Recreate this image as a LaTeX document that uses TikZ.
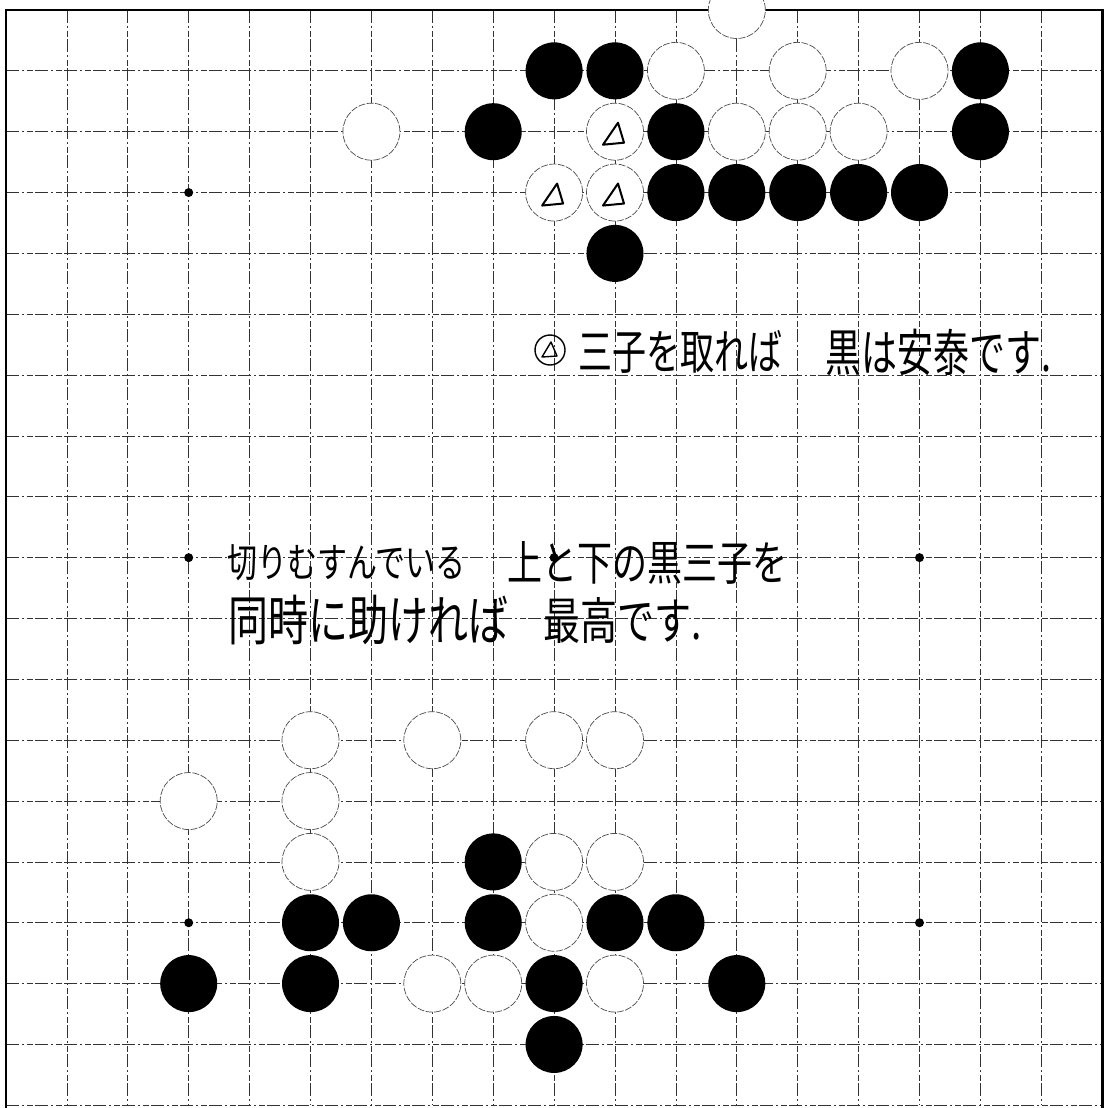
\documentclass[tikz,border=0pt]{standalone}
\usepackage{graphicx}
\usepackage{fontspec}
\newfontfamily\jp{Noto Sans CJK JP}
\begin{document}
\begin{tikzpicture}[x=1pt,y=-1pt,
  gridline/.style={line width=0.7pt,black!80,dash pattern=on 13pt off 3pt on 2pt off 3pt on 6pt off 2pt},
  border/.style={line width=2.6pt,black},
  bstone/.style={circle,fill=black,minimum size=57pt,inner sep=0pt},
  wstone/.style={circle,fill=white,draw=black!70,line width=0.7pt,dash pattern=on 7pt off 1.5pt,minimum size=57pt,inner sep=0pt},
  star/.style={circle,fill=black,minimum size=9pt,inner sep=0pt},
  tri/.style={line width=2pt,black,line join=round},
  hand/.style={inner sep=0pt,anchor=west,font=\jp}]
\useasboundingbox (0,0) rectangle (1105,1108);
\fill[white] (0,0) rectangle (1105,1108);
% grid
\foreach \i in {1,...,17}{
  \draw[gridline] ({6+60.9*\i},10) -- ({6+60.9*\i},1105.3);
  \draw[gridline] (6,{10+60.85*\i}) -- (1102.2,{10+60.85*\i});
}
\draw[gridline] (6,1105.3) -- (1102.2,1105.3);
% border
\draw[border] (6,1108) -- (6,10) -- (1102.2,10) -- (1102.2,1108);
% star points
\foreach \i/\j in {3/3,3/9,9/9,15/9,3/15,15/15}
  \node[star] (s\i-\j) at ({6+60.9*\i},{10+60.85*\j}) {};
% black stones
\foreach \i/\j in {9/1,10/1,16/1,8/2,11/2,16/2,11/3,12/3,13/3,14/3,15/3,10/4,
  8/14,5/15,6/15,8/15,10/15,11/15,3/16,5/16,9/16,12/16,9/17}
  \node[bstone] (b\i-\j) at ({6+60.9*\i},{10+60.85*\j}) {};
% white stones
\foreach \i/\j in {12/0,11/1,13/1,15/1,6/2,10/2,12/2,13/2,14/2,9/3,10/3,
  5/12,7/12,9/12,10/12,3/13,5/13,5/14,9/14,10/14,9/15,7/16,8/16,10/16}
  \node[wstone] (w\i-\j) at ({6+60.9*\i},{10+60.85*\j}) {};
% triangle marks
\foreach \n in {w10-2,w9-3,w10-3}
  \draw[tri] (\n) ++(3,-9) -- ++(-15,22) -- ++(21,-2) -- cycle;
% handwritten notes
\node[circle,draw=black,line width=1.4pt,minimum size=30pt,inner sep=0pt] (mark) at (550,350) {};
\draw[tri,line width=1.4pt] (mark) ++(1,-8) -- ++(-9,15) -- ++(15,-1) -- cycle;
\node[hand] (t1a) at (578,352) {\scalebox{1}[1.4]{\fontsize{34}{34}\selectfont 三子を取れば}};
\node[hand] (t1b) at (825,352) {\scalebox{1}[1.4]{\fontsize{36}{36}\selectfont 黒は安泰です.}};
\node[hand] (t2a) at (227,563) {\scalebox{1}[1.35]{\fontsize{30}{30}\selectfont 切りむすんでいる}};
\node[hand] (t2b) at (507,563) {\scalebox{1}[1.35]{\fontsize{35}{35}\selectfont 上と下の黒三子を}};
\node[hand] (t3a) at (228,620) {\scalebox{1}[1.35]{\fontsize{40}{40}\selectfont 同時に助ければ}};
\node[hand] (t3b) at (543,620) {\scalebox{1}[1.35]{\fontsize{37}{37}\selectfont 最高です.}};
\end{tikzpicture}
\end{document}
